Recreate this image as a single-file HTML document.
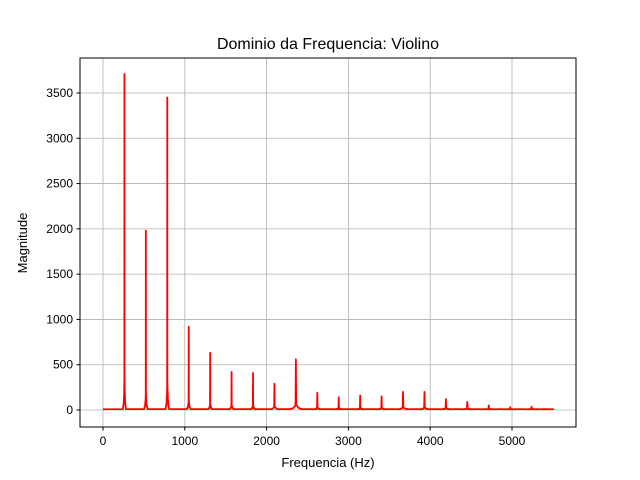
<!DOCTYPE html>
<html><head><meta charset="utf-8"><style>
body{margin:0;background:#fff;}
svg{display:block;font-family:"Liberation Sans","DejaVu Sans",sans-serif;}
</style></head><body>
<svg id="chart" width="640" height="480" viewBox="0 0 640 480">
<rect x="0" y="0" width="640" height="480" fill="#fff"/>
<g id="grid"></g>
<g id="series"></g>
<rect x="80" y="58" width="496" height="369" fill="none" stroke="#000" stroke-width="1"/>
<g id="xticks"></g>
<g id="yticks"></g>
<text x="328" y="49" text-anchor="middle" font-size="16">Dominio da Frequencia: Violino</text>
<text x="328" y="467" text-anchor="middle" font-size="13">Frequencia (Hz)</text>
<text x="27" y="243" text-anchor="middle" font-size="13" transform="rotate(-90 27 243)">Magnitude</text>
</svg>
<script>
const xTicks=[0,1000,2000,3000,4000,5000];
const yTicks=[0,500,1000,1500,2000,2500,3000,3500];
const peakFreqs=[262,524,786,1048,1310,1572,1834,2096,2358,2620,2882,3144,3406,3668,3930,4192,4454,4716,4978,5240];
const peakMags=[3710,1980,3450,920,630,420,410,290,560,190,140,160,150,200,200,120,90,50,30,35];
const secondaryMags=[1980,1180,1760,850,350,300,250,280,480,150,90,110,140,190,170,110,80,40,25,30];
const clusterWidths=[12,14,14,16,20,24,26,40,50,40,45,40,45,60,50,60,70,80,70,90];
const NS='http://www.w3.org/2000/svg';
const X=v=>103+(v*409/5000);
const Y=v=>410-(v*317/3500);
function mk(t,a,p){const e=document.createElementNS(NS,t);for(const k in a)e.setAttribute(k,a[k]);p.appendChild(e);return e;}
const grid=document.getElementById('grid'),xt=document.getElementById('xticks'),yt=document.getElementById('yticks');
xTicks.forEach(v=>{
 const g=mk('line',{x1:X(v),x2:X(v),y1:58,y2:427,stroke:'#b0b0b0','stroke-width':0.8},grid);
 
 const t=mk('line',{x1:X(v),x2:X(v),y1:427,y2:430.5,stroke:'#000'},xt);
 
 const l=mk('text',{x:X(v),y:445,'text-anchor':'middle','font-size':12},xt);l.textContent=v;
 
});
yTicks.forEach(v=>{
 const g=mk('line',{x1:80,x2:576,y1:Y(v),y2:Y(v),stroke:'#b0b0b0','stroke-width':0.8},grid);
 
 const t=mk('line',{x1:76.5,x2:80,y1:Y(v),y2:Y(v),stroke:'#000'},yt);
 
 const l=mk('text',{x:73,y:Y(v)+4,'text-anchor':'end','font-size':12},yt);l.textContent=v;
 
});
const shape=[[-1,0.03],[-0.8,0.12],[-0.6,0.05],[-0.45,0.35],[-0.3,0.08],[-0.15,0.6],[-0.08,0.15],[0,1],[0.06,0.2],[0.15,0.7],[0.25,0.1],[0.4,0.45],[0.55,0.06],[0.75,0.2],[1,0.03]];
let d='M'+X(0)+','+Y(8);
peakFreqs.forEach((f,i)=>{
 const m=peakMags[i],s=secondaryMags[i],w=clusterWidths[i];
 d+=' L'+X(f-w*1.6)+','+Y(10);
 shape.forEach(([o,r],k)=>{
  let v=(o===0)?m:(k%2===0?s*r:m*r*0.12+8);
  if(o!==0&&k%2===0&&i<3)v=s*r;
  d+=' L'+X(f+o*w)+','+Y(Math.max(v,8));
 });
 d+=' L'+X(f+w*1.6)+','+Y(10);
});
d+=' L'+X(5512)+','+Y(8);
const p=mk('path',{d:d,fill:'none',stroke:'#ff0000','stroke-width':1.8,'stroke-linejoin':'round'},document.getElementById('series'));

</script>
</body></html>
